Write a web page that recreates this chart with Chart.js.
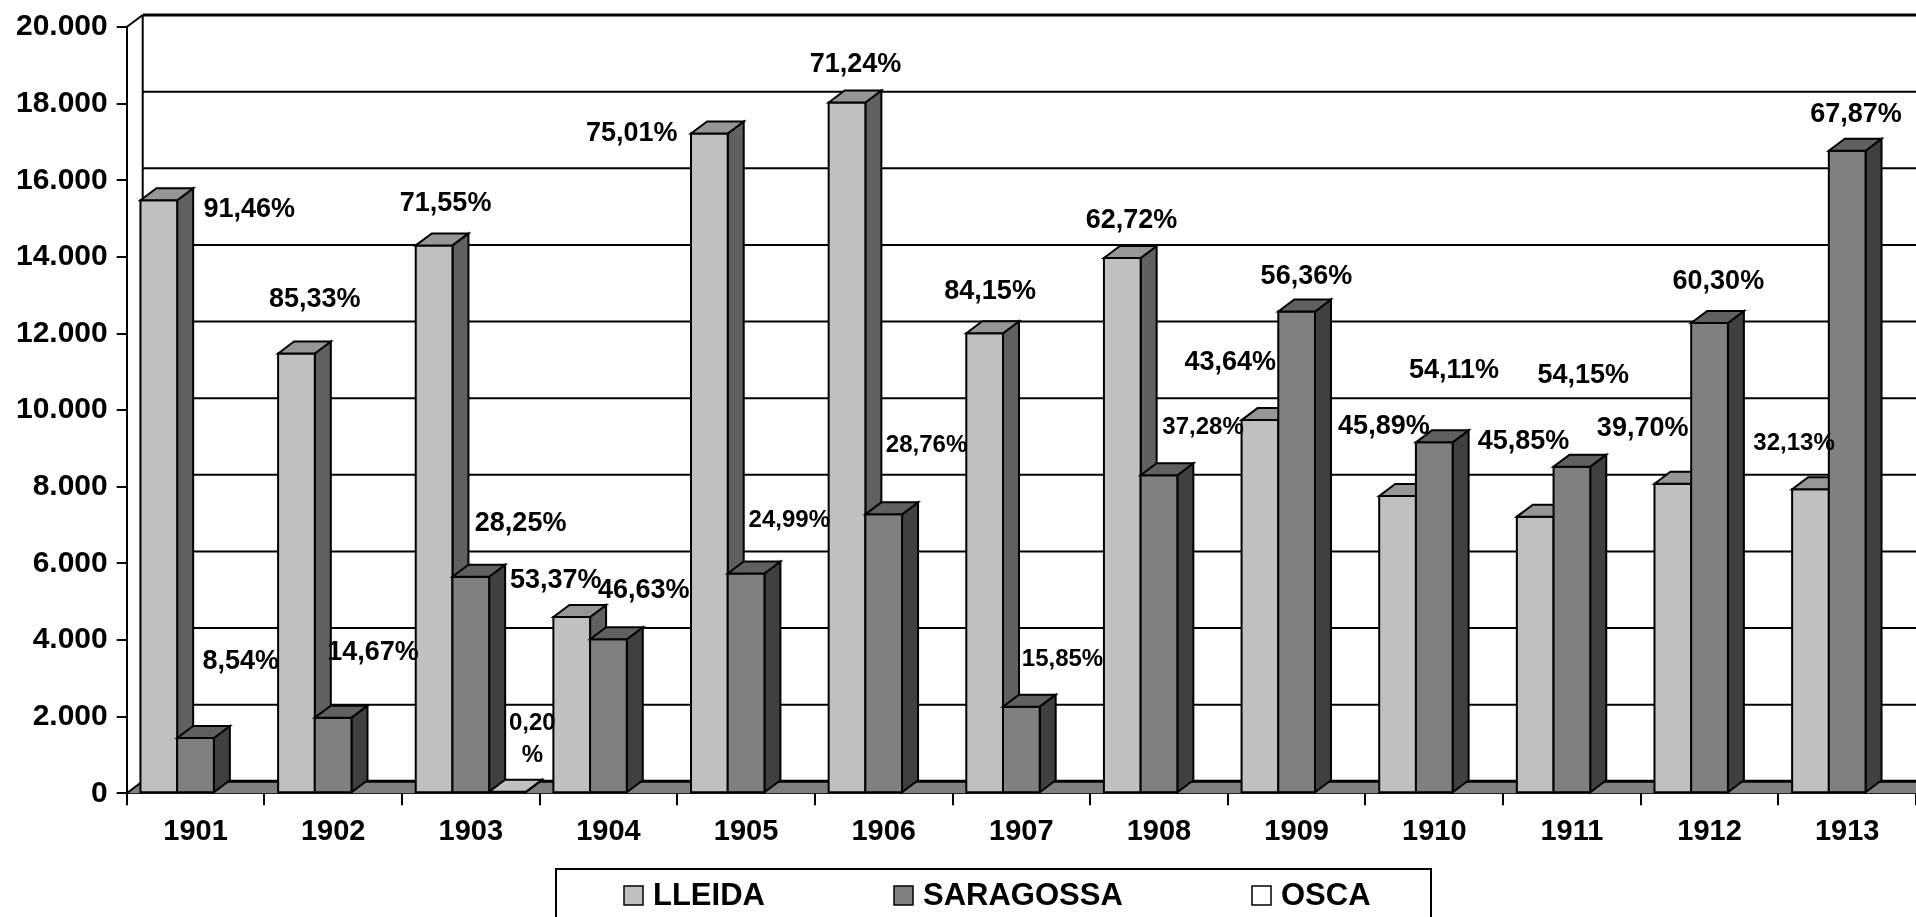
<!DOCTYPE html>
<html>
<head>
<meta charset="utf-8">
<script src="https://cdn.jsdelivr.net/npm/chart.js@4.4.1/dist/chart.umd.min.js"></script>
<style>
  html, body { margin: 0; padding: 0; background: #fff; }
  #wrap { width: 1916px; height: 917px; position: relative; }
</style>
</head>
<body>
<div id="wrap"><canvas id="chart"></canvas></div>
<script>
// --- data ---
const years = ['1901', '1902', '1903', '1904', '1905', '1906', '1907', '1908', '1909', '1910', '1911', '1912', '1913'];
const lleida = [15480, 11480, 14300, 4600, 17220, 18030, 12006, 13970, 9740, 7760, 7220, 8080, 7935];
const saragossa = [1445, 1975, 5650, 4020, 5735, 7280, 2261, 8300, 12575, 9160, 8525, 12275, 16770];
const osca = [0, 0, 40, 0, 0, 0, 0, 0, 0, 0, 0, 0, 0];
const pctLleida = ['91,46%', '85,33%', '71,55%', '53,37%', '75,01%', '71,24%', '84,15%', '62,72%', '43,64%', '45,89%', '45,85%', '39,70%', '32,13%'];
const pctSaragossa = ['8,54%', '14,67%', '28,25%', '46,63%', '24,99%', '28,76%', '15,85%', '37,28%', '56,36%', '54,11%', '54,15%', '60,30%', '67,87%'];
const pctOsca = ['', '', '0,20\n%', '', '', '', '', '', '', '', '', '', ''];
const yTicks = [0, 2000, 4000, 6000, 8000, 10000, 12000, 14000, 16000, 18000, 20000];

// where the percentage labels sit: [category offset, y value, font size]
const labelPosLleida = [
  [0.39, 15230, 27], [-0.134, 12890, 27], [-0.183, 15400, 27], [-0.383, 5550, 27],
  [-0.831, 17230, 27], [-0.205, 19030, 27], [-0.227, 13090, 27], [-0.2, 14950, 27],
  [-0.482, 11240, 27], [-0.366, 9580, 27], [-0.351, 9190, 27], [-0.486, 9520, 27],
  [-0.386, 9130, 24]
];
const labelPosSaragossa = [
  [0.329, 3450, 27], [0.289, 3680, 27], [0.362, 7050, 27], [0.257, 5290, 27],
  [0.314, 7130, 24], [0.311, 9080, 24], [0.299, 3485, 24], [0.32, 9550, 24],
  [0.071, 13480, 27], [0.144, 11030, 27], [0.082, 10905, 27], [0.064, 13350, 27],
  [0.064, 17710, 27]
];
const labelPosOsca = [null, null, [0.447, 1836, 24], null, null, null, null, null, null, null, null, null, null];

const FONT = "'Liberation Sans', Arial, sans-serif";
const DX = 16, DY = 12;

const shades = [
  { front: '#c0c0c0', top: '#969696', side: '#606060' },
  { front: '#808080', top: '#606060', side: '#404040' },
  { front: '#ffffff', top: '#c0c0c0', side: '#969696' }
];

function fmtThousands(v) {
  return String(v).replace(/\B(?=(\d{3})+(?!\d))/g, '.');
}

function poly(ctx, pts, fill) {
  ctx.beginPath();
  ctx.moveTo(pts[0][0], pts[0][1]);
  for (let i = 1; i < pts.length; i++) ctx.lineTo(pts[i][0], pts[i][1]);
  ctx.closePath();
  ctx.fillStyle = fill;
  ctx.fill();
  ctx.stroke();
}

function line(ctx, x1, y1, x2, y2) {
  ctx.beginPath();
  ctx.moveTo(x1, y1);
  ctx.lineTo(x2, y2);
  ctx.stroke();
}

// draws the back wall, floor and the 3d boxes from the bar elements
const threeD = {
  id: 'threeD',
  beforeDatasetsDraw(chart) {
    const { ctx, chartArea: a, scales: { y } } = chart;
    ctx.save();
    ctx.strokeStyle = '#000';
    ctx.lineWidth = 2;
    // floor
    ctx.fillStyle = '#808080';
    ctx.beginPath();
    ctx.moveTo(a.left, a.bottom);
    ctx.lineTo(a.right + DX, a.bottom);
    ctx.lineTo(a.right + DX, a.bottom - DY);
    ctx.lineTo(a.left + DX, a.bottom - DY);
    ctx.closePath();
    ctx.fill();
    // grid on back wall
    y.ticks.forEach(t => {
      const py = y.getPixelForValue(t.value) - DY;
      ctx.lineWidth = (t.value === y.max || t.value === y.min) ? 3 : 2;
      line(ctx, a.left + DX, py, a.right + DX, py);
    });
    ctx.lineWidth = 2;
    line(ctx, a.left + DX, a.top - DY, a.left + DX, a.bottom - DY);
    line(ctx, a.left, a.top, a.left + DX, a.top - DY);
    line(ctx, a.left, a.bottom, a.left + DX, a.bottom - DY);
    ctx.restore();
  },
  beforeDatasetDraw() {
    return false;
  },
  afterDatasetsDraw(chart) {
    const { ctx } = chart;
    const metas = chart.data.datasets.map((d, i) => chart.getDatasetMeta(i));
    ctx.save();
    ctx.strokeStyle = '#000';
    ctx.lineWidth = 2;
    ctx.lineJoin = 'miter';
    for (let j = 0; j < years.length; j++) {
      metas.forEach((meta, i) => {
        const value = chart.data.datasets[i].data[j];
        if (!value) return;
        const el = meta.data[j];
        const { x, y, base, width } = el.getProps(['x', 'y', 'base', 'width'], true);
        const l = x - width / 2, r = x + width / 2;
        const c = shades[i];
        poly(ctx, [[r, y], [r + DX, y - DY], [r + DX, base - DY], [r, base]], c.side);
        poly(ctx, [[l, y], [r, y], [r, base], [l, base]], c.front);
        poly(ctx, [[l, y], [l + DX, y - DY], [r + DX, y - DY], [r, y]], c.top);
      });
    }
    ctx.restore();
  }
};

// percentage labels and the boxed legend
const overlay = {
  id: 'overlay',
  afterDraw(chart) {
    const { ctx, scales: { x, y } } = chart;
    ctx.save();
    ctx.fillStyle = '#000';
    ctx.textAlign = 'center';
    ctx.textBaseline = 'middle';
    const sets = [[pctLleida, labelPosLleida], [pctSaragossa, labelPosSaragossa], [pctOsca, labelPosOsca]];
    sets.forEach(([texts, pos]) => {
      texts.forEach((txt, j) => {
        const p = pos[j];
        if (!txt || !p) return;
        ctx.font = 'bold ' + p[2] + 'px ' + FONT;
        const px = x.getPixelForValue(j + p[0]);
        const py = y.getPixelForValue(p[1]);
        txt.split('\n').forEach((part, k) => ctx.fillText(part, px, py + k * 32));
      });
    });

    // legend
    const names = chart.data.datasets.map(d => d.label);
    const swatchX = [624, 894, 1252];
    ctx.strokeStyle = '#000';
    ctx.lineWidth = 2;
    ctx.beginPath();
    ctx.moveTo(556, 930);
    ctx.lineTo(556, 869);
    ctx.lineTo(1431, 869);
    ctx.lineTo(1431, 930);
    ctx.stroke();
    ctx.textAlign = 'left';
    ctx.font = 'bold 31px ' + FONT;
    names.forEach((n, i) => {
      ctx.fillStyle = shades[i].front;
      ctx.fillRect(swatchX[i], 886, 19, 19);
      ctx.lineWidth = 1.5;
      ctx.strokeRect(swatchX[i], 886, 19, 19);
      ctx.fillStyle = '#000';
      ctx.fillText(n, swatchX[i] + 29, 896);
    });
    ctx.restore();
  }
};

new Chart(document.getElementById('chart'), {
  type: 'bar',
  data: {
    labels: years,
    datasets: [
      { label: 'LLEIDA', data: lleida, backgroundColor: '#c0c0c0' },
      { label: 'SARAGOSSA', data: saragossa, backgroundColor: '#808080' },
      { label: 'OSCA', data: osca, backgroundColor: '#ffffff' }
    ]
  },
  options: {
    responsive: true,
    maintainAspectRatio: false,
    animation: false,
    layout: { padding: { top: 24, right: 0, bottom: 0, left: 0 } },
    datasets: { bar: { categoryPercentage: 0.8, barPercentage: 1 } },
    plugins: { legend: { display: false }, tooltip: { enabled: false } },
    scales: {
      x: {
        z: 1,
        grid: { drawOnChartArea: false, drawTicks: true, tickLength: 12, color: '#000', lineWidth: 2, offset: true },
        border: { display: true, color: '#000', width: 2 },
        ticks: { color: '#000', padding: 9, maxRotation: 0, font: { family: FONT, size: 29, weight: 'bold' } },
        afterFit(s) { s.height = 123.7; }
      },
      y: {
        z: 1,
        min: 0,
        max: 20000,
        afterBuildTicks(s) { s.ticks = yTicks.map(v => ({ value: v })); },
        ticks: { color: '#000', padding: 9, callback: v => fmtThousands(v), font: { family: FONT, size: 30, weight: 'bold' } },
        grid: { drawOnChartArea: false, drawTicks: true, tickLength: 10, color: '#000', lineWidth: 2 },
        border: { display: true, color: '#000', width: 2 },
        afterFit(s) { s.width = 126.7; }
      }
    }
  },
  plugins: [threeD, overlay]
});
</script>
</body>
</html>
